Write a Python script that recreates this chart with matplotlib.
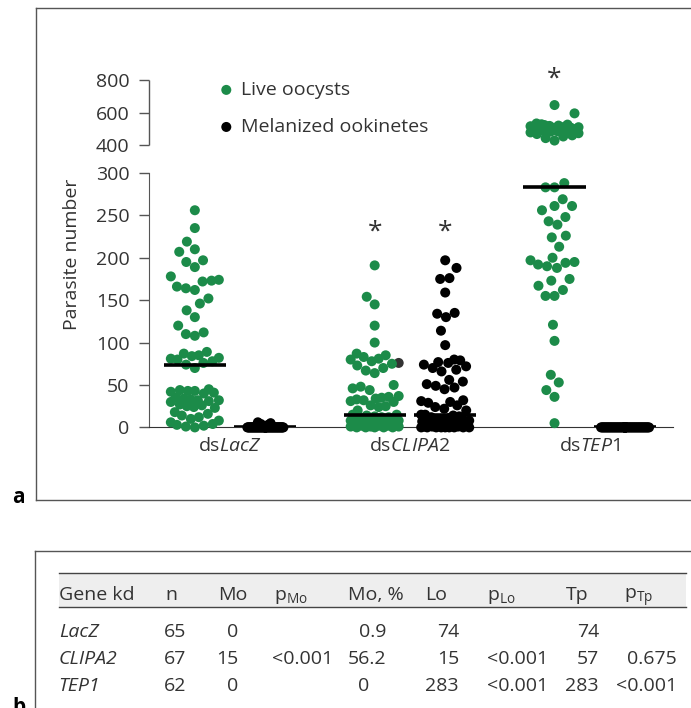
import numpy as np
import matplotlib
matplotlib.use("Agg")
import matplotlib.pyplot as plt
from matplotlib.lines import Line2D
from matplotlib.patches import Rectangle

W, H = 691, 708

# ---- data ----
lacz_live = [256, 235, 219, 210, 207, 197, 195, 189, 178, 174, 173, 172, 166, 164,
             162, 152, 146, 138, 130, 120, 112, 110, 108,
             89, 87, 85, 84, 82, 81, 80, 78, 76, 74, 70,
             45, 44, 43, 43, 42, 41, 40, 35, 34, 33, 32, 32, 31, 30,
             27, 26, 25, 24, 23, 18, 16, 14, 12, 10, 8, 6, 4, 3, 2, 1, 0]
lacz_mel = [6, 5, 4, 3, 2, 2, 1, 1] + [0] * 57
clipa2_live = [191, 154, 145, 120, 100, 87, 85, 83, 81, 80, 78, 76, 75, 73, 70, 67, 64,
               50, 48, 46, 44, 37, 36, 35, 34, 33, 32, 31, 30, 26, 25, 24, 20,
               15, 15, 14, 13, 12, 12, 11, 10, 10, 9, 9, 8, 8, 7, 7, 6, 6, 5, 5,
               4, 4, 3, 3, 2, 2, 2, 1, 1, 1, 0, 0, 0, 0, 0]
clipa2_dark = 76   # the one dark point in the live column
clipa2_mel = [197, 188, 176, 175, 159, 135, 134, 130, 114, 97, 80, 79, 77, 76, 74, 72,
              70, 68, 66, 56, 54, 51, 49, 47, 45, 32, 31, 30, 29, 26, 24, 22, 20,
              15, 15, 14, 13, 12, 11, 10, 10, 9, 8, 8, 7, 6, 6, 5, 5, 4, 4, 3, 3,
              2, 2, 1, 1, 1, 0, 0, 0, 0, 0, 0, 0, 0, 0]
tep1_live = [648, 597, 535, 530, 528, 525, 522, 520, 518, 515, 512, 510, 508, 505,
             503, 500, 498, 495, 492, 490, 487, 485, 480, 475, 470, 462, 455, 445, 430,
             288, 283, 283, 269, 261, 261, 256, 248, 243, 239, 226, 224, 213,
             200, 197, 195, 194, 192, 190, 188, 175, 173, 167, 162, 155, 155,
             121, 102, 62, 53, 44, 36, 5]
tep1_mel = [0] * 62

genes = ["LacZ", "CLIPA2", "TEP1"]
yticks = [0, 50, 100, 150, 200, 250, 300, 400, 600, 800]

# table
col_heads = ["Gene kd", "n", "Mo", r"p$_{\mathrm{Mo}}$", "Mo, %", "Lo", r"p$_{\mathrm{Lo}}$", "Tp", r"p$_{\mathrm{Tp}}$"]
n_vals = ["65", "67", "62"]
mo_vals = ["0", "15", "0"]
pmo_vals = ["", "<0.001", ""]
mopct_vals = ["0.9", "56.2", "0"]
lo_vals = ["74", "15", "283"]
plo_vals = ["", "<0.001", "<0.001"]
tp_vals = ["74", "57", "283"]
ptp_vals = ["", "0.675", "<0.001"]

GREEN = "#1c8b49"
DARK = "#333333"
TXT = "#333333"
AX = "#555555"
FS = 14

plt.rcParams.update({
    "font.family": ["Open Sans", "DejaVu Sans"],
    "font.size": FS,
    "text.color": TXT,
    "mathtext.fontset": "custom",
    "mathtext.rm": "Open Sans",
    "mathtext.it": "Open Sans:italic",
    "mathtext.bf": "Open Sans:bold",
})

# broken y axis: 0-300 linear, 400-800 compressed
GAP_K, UP_K = 0.324, 0.192


def fwd(v):
    v = np.asarray(v, float)
    return np.where(v <= 300, v,
                    np.where(v <= 400, 300 + (v - 300) * GAP_K,
                             300 + 100 * GAP_K + (v - 400) * UP_K))


def inv(t):
    t = np.asarray(t, float)
    return np.where(t <= 300, t,
                    np.where(t <= 300 + 100 * GAP_K, 300 + (t - 300) / GAP_K,
                             400 + (t - 300 - 100 * GAP_K) / UP_K))


def fx(x):
    return x / W


def fy(y):
    return 1 - y / H


def swarm(ypx, diam, half, ky=0.55):
    # greedy beeswarm; vertical distance is shrunk by ky so nearby values spread sideways,
    # and points that do not fit in the width are squeezed where overlap is least
    xs = np.zeros(len(ypx))
    done = []
    grid = np.linspace(-half, half, 49)
    for i in np.argsort(ypx, kind="stable"):
        y = ypx[i]
        near = [(xs[j], (ypx[j] - y) * ky) for j in done if abs(ypx[j] - y) * ky < diam]
        cands = [0.0]
        for xj, dy in near:
            d = np.sqrt(diam ** 2 - dy ** 2)
            cands += [xj - d, xj + d]
        ok = [c for c in cands if abs(c) <= half + 1e-9 and
              all((c - xj) ** 2 + dy ** 2 >= diam ** 2 - 1e-6 for xj, dy in near)]
        if ok:
            x = min(ok, key=abs)
        else:
            def score(c):
                return min(np.hypot(c - xj, dy) for xj, dy in near)
            x = max(grid, key=lambda c: (round(score(c), 2), -abs(c)))
        xs[i] = x
        done.append(i)
    return xs


fig = plt.figure(figsize=(W / 100, H / 100), dpi=100)
ax = fig.add_axes([fx(149), fy(427.4), 524 / W, (427.4 - 80.3) / H])
ax.set_yscale("function", functions=(fwd, inv))
ax.set_ylim(0, 800)
ax.set_xlim(-0.65, 6.78)

positions = [0, 1, 2.55, 3.55, 5.1, 6.1]
series = [lacz_live, lacz_mel, clipa2_live, clipa2_mel, tep1_live, tep1_mel]
halfw = [24, 18, 24, 24, 24, 24]
is_live = [True, False, True, False, True, False]

px_per_unit = ax.transData.transform((1, 0))[0] - ax.transData.transform((0, 0))[0]
for k, (pos, vals) in enumerate(zip(positions, series)):
    vals = np.asarray(vals, float)
    ypx = ax.transData.transform(np.column_stack([np.zeros_like(vals), vals]))[:, 1]
    off = swarm(ypx, 9.0, halfw[k]) / px_per_unit
    if is_live[k]:
        cols = [DARK if (k == 2 and v == clipa2_dark) else GREEN for v in vals]
    else:
        cols = ["black"] * len(vals)
    lab = None
    if k == 0:
        lab = "Live oocysts"
    elif k == 1:
        lab = "Melanized ookinetes"
    ax.scatter(pos + off, vals, s=52, c=cols, edgecolors="none", clip_on=False,
               zorder=3, label=lab)
    ax.hlines(np.median(vals), pos - 0.44, pos + 0.44, color="black", lw=2.6, zorder=4)

# asterisks
ax.text(positions[2], 230, "*", ha="center", va="center", fontsize=19, color=TXT)
ax.text(positions[3], 230, "*", ha="center", va="center", fontsize=19, color=TXT)
ax.text(positions[4], 808, "*", ha="center", va="center", fontsize=19, color=TXT)

# axes styling
for s in ("top", "right"):
    ax.spines[s].set_visible(False)
ax.spines["left"].set_bounds(0, 300)
ax.spines["left"].set_color(AX)
ax.spines["bottom"].set_color("#333333")
ax.plot([0, 0], [400, 800], transform=ax.get_yaxis_transform(), color=AX,
        lw=1.0, clip_on=False, solid_capstyle="butt")
ax.set_yticks(yticks)
ax.set_yticklabels([str(t) for t in yticks])
ax.tick_params(axis="y", length=7, width=1, color=AX, pad=7, labelsize=FS, labelcolor=TXT)
ax.set_xticks([(positions[0] + positions[1]) / 2, (positions[2] + positions[3]) / 2,
               (positions[4] + positions[5]) / 2])
ax.set_xticklabels([r"ds$\mathit{%s}$" % g for g in genes])
ax.tick_params(axis="x", length=0, pad=7, labelsize=FS, labelcolor=TXT)
ax.set_ylabel("Parasite number", fontsize=FS, color=TXT)
ax.yaxis.set_label_coords(-0.13, 0.5)
ax.set_facecolor("none")

ax.legend(loc="upper left", bbox_to_anchor=(fx(219), fy(81)), bbox_transform=fig.transFigure,
          borderaxespad=0, borderpad=0, frameon=False, handlelength=0.75, handletextpad=0.4,
          labelspacing=0.98, fontsize=FS, scatterpoints=1)

# panel frames
lk = dict(color="#555555", lw=1.0)
for (x0, y0, x1, y1) in [(36, 8, 691, 8), (36, 8, 36, 500), (36, 500, 691, 500),
                         (35, 551, 691, 551), (35, 551, 35, 708)]:
    fig.add_artist(Line2D([fx(x0), fx(x1)], [fy(y0), fy(y1)], **lk))
fig.text(fx(12), fy(503), "a", fontsize=15, fontweight="bold", color="black")
fig.text(fx(12), fy(713), "b", fontsize=15, fontweight="bold", color="black")

# table
fig.add_artist(Rectangle((fx(58.7), fy(607.3)), fx(686) - fx(58.7), fy(573.3) - fy(607.3),
                         facecolor="#eeeeee", edgecolor="none"))
for yy in (573.3, 607.3):
    fig.add_artist(Line2D([fx(58.7), fx(686)], [fy(yy), fy(yy)], color="#444444", lw=1.0))
head_x = [58.7, 165.7, 218.5, 274.5, 348, 425, 486.6, 566, 624]
for h, x in zip(col_heads, head_x):
    fig.text(fx(x), fy(600), h, ha="left", va="baseline", fontsize=FS, color=TXT)

row_y = [637.3, 664, 690.7]
cols = [(n_vals, 186), (mo_vals, 238.7), (pmo_vals, 333.5), (mopct_vals, 386),
        (lo_vals, 459), (plo_vals, 547.7), (tp_vals, 599), (ptp_vals, 677)]
for r, yy in enumerate(row_y):
    fig.text(fx(58.7), fy(yy), genes[r], ha="left", va="baseline", fontsize=FS,
             style="italic", color=TXT)
    for vals, xr in cols:
        s = vals[r]
        if xr == 386 and "." not in s:
            xr -= 17   # align on the decimal point
        fig.text(fx(xr), fy(yy), s, ha="right", va="baseline", fontsize=FS, color=TXT)

fig.savefig("out.png", dpi=100)
